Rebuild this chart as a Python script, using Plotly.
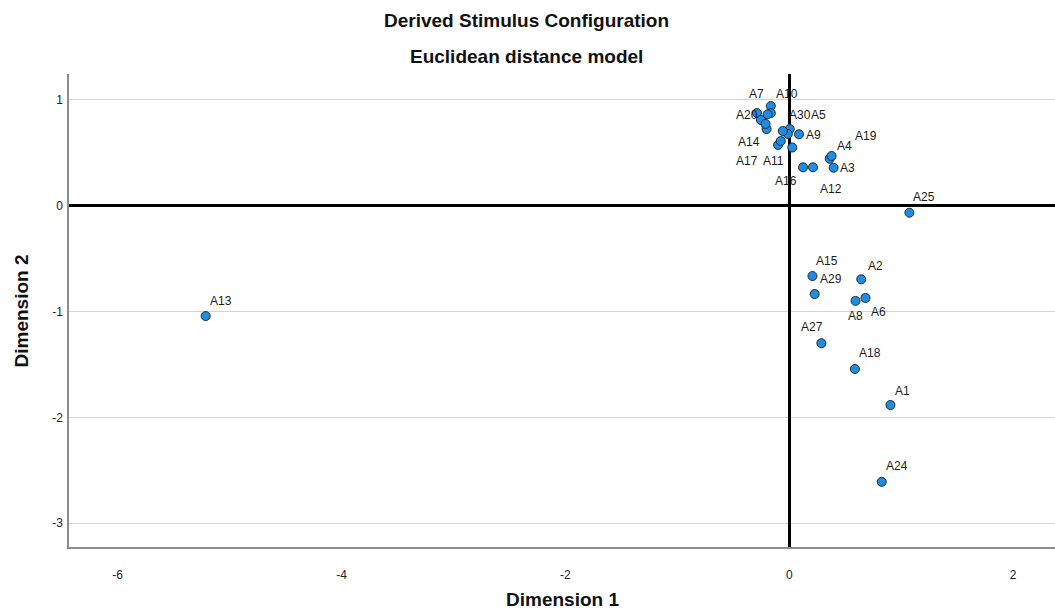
import plotly.graph_objects as go

# Stimulus coordinates (Dimension 1, Dimension 2)
names = ["A1", "A2", "A3", "A4", "A5", "A6", "A7", "A8", "A9", "A10",
         "A11", "A12", "A13", "A14", "A15", "A16", "A17", "A18", "A19", "A20",
         "A21", "A22", "A23", "A24", "A25", "A26", "A27", "A28", "A29", "A30"]
dim1 = [0.904, 0.643, 0.396, 0.361, 0.004, 0.681, -0.165, 0.592, 0.087, -0.165,
        -0.100, 0.212, -5.214, -0.203, 0.207, 0.123, -0.076, 0.586, 0.378, -0.289,
        -0.194, -0.254, -0.212, 0.826, 1.073, -0.013, 0.287, 0.027, 0.227, -0.058]
dim2 = [-1.884, -0.696, 0.359, 0.444, 0.725, -0.872, 0.942, -0.900, 0.675, 0.876,
        0.574, 0.363, -1.043, 0.725, -0.665, 0.363, 0.611, -1.543, 0.470, 0.876,
        0.864, 0.810, 0.773, -2.610, -0.066, 0.678, -1.300, 0.550, -0.835, 0.706]

# labels that are drawn (others hidden by overlap), with pixel offsets (style)
shown = ["A1", "A2", "A3", "A4", "A5", "A6", "A7", "A8", "A9", "A10",
         "A11", "A12", "A13", "A14", "A15", "A16", "A17", "A18", "A19", "A20",
         "A24", "A25", "A27", "A29", "A30"]
label_dx = [12, 14, 14, 15, 29, 13, -14, 0, 14, 16,
            -5, 18, 15, -18, 15, -17, -34, 15, 34, -10,
            15, 15, -9, 16, 17]
label_dy = [-14, -13, 0, -13, -14, 14, -12, 15, 1, -19,
            16, 22, -15, 13, -15, 14, 20, -16, -20, 2,
            -16, -16, -16, -15, -16]

x_ticks = [-6, -4, -2, 0, 2]
x_tick_labels = ["-6", "-4", "-2", "0", "2"]
y_ticks = [1, 0, -1, -2, -3]
y_tick_labels = ["1", "0", "-1", "-2", "-3"]

FONT = "Liberation Sans, Arial, sans-serif"

fig = go.Figure()
fig.add_trace(go.Scatter(
    x=dim1, y=dim2, mode="markers", text=names, hoverinfo="text",
    marker=dict(size=9, color="#1f8ee0", line=dict(color="#1b2a3a", width=1)),
    showlegend=False,
))

idx = {n: i for i, n in enumerate(names)}
for n, dx, dy in zip(shown, label_dx, label_dy):
    i = idx[n]
    fig.add_annotation(x=dim1[i], y=dim2[i], text=n, showarrow=False,
                       xshift=dx, yshift=-dy,
                       font=dict(family=FONT, size=12, color="#1a1a1a"))

fig.add_annotation(text="<b>Derived Stimulus Configuration</b>", xref="paper", yref="paper",
                   x=0.4645, y=1.113, showarrow=False, xanchor="center", yanchor="middle",
                   font=dict(family=FONT, size=19, color="#111"))
fig.add_annotation(text="<b>Euclidean distance model</b>", xref="paper", yref="paper",
                   x=0.4645, y=1.037, showarrow=False, xanchor="center", yanchor="middle",
                   font=dict(family=FONT, size=19, color="#111"))
fig.add_annotation(text="<b>Dimension 1</b>", xref="paper", yref="paper",
                   x=0.5, y=-0.110, showarrow=False, xanchor="center", yanchor="middle",
                   font=dict(family=FONT, size=19, color="#111"))
fig.add_annotation(text="<b>Dimension 2</b>", xref="paper", yref="paper", textangle=-90,
                   x=-0.0477, y=0.5, showarrow=False, xanchor="center", yanchor="middle",
                   font=dict(family=FONT, size=19, color="#111"))

fig.update_layout(
    width=1055, height=614,
    margin=dict(l=69, r=0, t=74, b=67),
    paper_bgcolor="white", plot_bgcolor="white",
    font=dict(family=FONT, size=12, color="#222"),
    xaxis=dict(
        range=[-6.435, 2.374], tickvals=x_ticks, ticktext=x_tick_labels, showgrid=False,
        zeroline=True, zerolinecolor="black", zerolinewidth=3,
        showline=True, linecolor="#8c8c8c", linewidth=1.5,
        ticks="", ticklabelstandoff=16, automargin=False,
        fixedrange=True,
    ),
    yaxis=dict(
        range=[-3.226, 1.245], tickvals=y_ticks, ticktext=y_tick_labels,
        showgrid=True, gridcolor="#d4d4d4", gridwidth=1,
        zeroline=True, zerolinecolor="black", zerolinewidth=3,
        showline=True, linecolor="#8c8c8c", linewidth=1.5,
        ticks="", ticklabelstandoff=2, automargin=False,
        fixedrange=True,
    ),
)

fig.write_html("out.html", config={"displayModeBar": False},
               post_script="document.body.style.margin='0';document.body.style.overflow='hidden';")
